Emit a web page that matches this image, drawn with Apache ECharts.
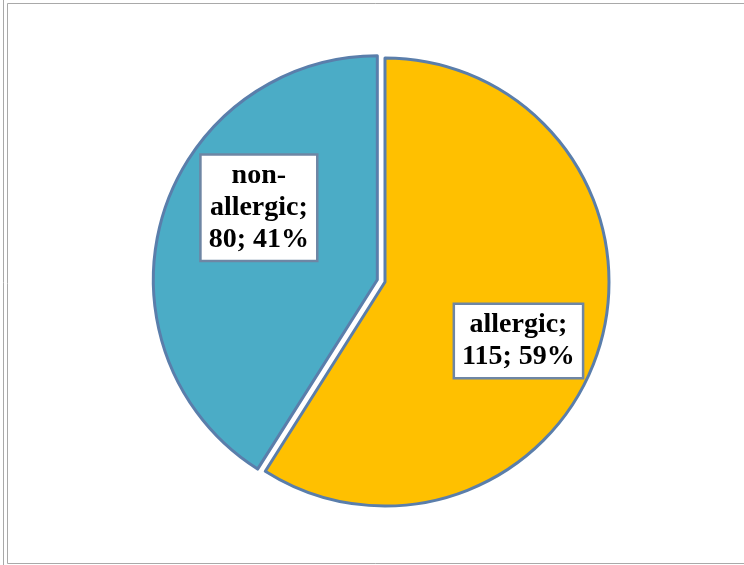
<!DOCTYPE html>
<html>
<head>
<meta charset="utf-8">
<script src="https://cdn.jsdelivr.net/npm/echarts@6/dist/echarts.min.js"></script>
<style>
  html, body { margin: 0; padding: 0; background: #fff; }
  #chart { width: 744px; height: 565px; }
</style>
</head>
<body>
<div id="chart"></div>
<script>
// Patient groups and counts
const categories = ['allergic', 'non-allergic'];
const counts = [115, 80];
const sliceColors = ['#FFC000', '#4BACC6'];

const chart = echarts.init(document.getElementById('chart'));

const pieData = categories.map((name, i) => ({
  name: name,
  value: counts[i],
  selected: name === 'non-allergic',
  itemStyle: { color: sliceColors[i] }
}));

// wrap the long category name after its hyphen
function labelText(p) {
  const name = p.name.replace('-', '-\n');
  return name + ';\n' + p.value + '; ' + Math.round(p.percent) + '%';
}

const labelShift = [
  { dx: 23, dy: 27 },
  { dx: -8, dy: -40 }
];

chart.setOption({
  backgroundColor: '#ffffff',
  animation: false,
  graphic: [
    { type: 'line', shape: { x1: 3.5, y1: 0, x2: 3.5, y2: 565 }, style: { stroke: '#a9a9a9', lineWidth: 1 } },
    { type: 'line', shape: { x1: 7.5, y1: 3.5, x2: 7.5, y2: 563.5 }, style: { stroke: '#a9a9a9', lineWidth: 1 } },
    { type: 'line', shape: { x1: 7.5, y1: 3.5, x2: 744, y2: 3.5 }, style: { stroke: '#a9a9a9', lineWidth: 1 } },
    { type: 'line', shape: { x1: 7.5, y1: 563.5, x2: 744, y2: 563.5 }, style: { stroke: '#a9a9a9', lineWidth: 1 } }
  ],
  series: [{
    type: 'pie',
    center: [385, 282],
    radius: [0, 224],
    startAngle: 90,
    clockwise: true,
    selectedMode: 'single',
    selectedOffset: 8,
    avoidLabelOverlap: false,
    itemStyle: { borderColor: '#5A7EAB', borderWidth: 3 },
    emphasis: { disabled: true },
    label: {
      show: true,
      position: 'inside',
      formatter: labelText,
      fontFamily: '"Liberation Serif", "Times New Roman", serif',
      fontWeight: 'bold',
      fontSize: 28,
      lineHeight: 32,
      color: '#000',
      align: 'center',
      backgroundColor: '#ffffff',
      borderColor: '#6E86A4',
      borderWidth: 2.5,
      padding: [4, 7]
    },
    labelLine: { show: false },
    labelLayout: function (p) { return labelShift[p.dataIndex]; },
    data: pieData
  }]
});
</script>
</body>
</html>
